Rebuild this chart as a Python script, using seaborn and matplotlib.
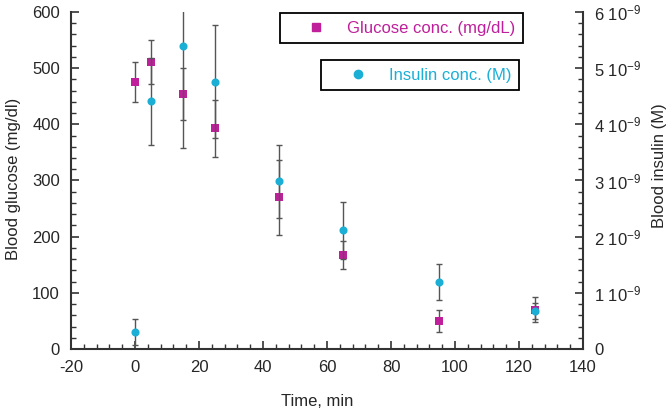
# Blood glucose and insulin over time
import numpy as np
import pandas as pd
import matplotlib
matplotlib.use('Agg')
import matplotlib.pyplot as plt
from matplotlib.ticker import MultipleLocator, FixedLocator, FixedFormatter
from matplotlib.lines import Line2D
import seaborn as sns

# Data
time_glucose = [0, 5, 15, 25, 45, 65, 95, 125]
glucose = [475, 511, 454, 393, 270, 168, 50, 70]
glucose_err = [36, 40, 47, 51, 67, 25, 20, 22]

time_insulin = [0, 5, 15, 25, 45, 65, 95, 125]
insulin = [0.30e-9, 4.41e-9, 5.40e-9, 4.76e-9, 2.99e-9, 2.11e-9, 1.20e-9, 0.68e-9]
insulin_err = [0.23e-9, 0.77e-9, 1.83e-9, 1.00e-9, 0.65e-9, 0.50e-9, 0.32e-9, 0.14e-9]

insulin_ticks = [0, 1e-9, 2e-9, 3e-9, 4e-9, 5e-9, 6e-9]
insulin_ticklabels = ['0', '1 10$^{-9}$', '2 10$^{-9}$', '3 10$^{-9}$',
                      '4 10$^{-9}$', '5 10$^{-9}$', '6 10$^{-9}$']

magenta = '#BF1F9B'
cyan = '#1BAFD6'
err_color = '#555555'

df_g = pd.DataFrame({'time': time_glucose, 'glucose': glucose})
df_i = pd.DataFrame({'time': time_insulin, 'insulin': insulin})

sns.set_style('ticks')
plt.rcParams['font.family'] = ['Liberation Sans', 'DejaVu Sans']
plt.rcParams['mathtext.default'] = 'regular'
plt.rcParams['axes.unicode_minus'] = False
fs = 12

fig = plt.figure(figsize=(6.66, 4.08), dpi=100)
ax = fig.add_axes([0.1066, 0.1446, 0.7688, 0.826])
ax2 = ax.twinx()

# glucose on the left axis
ax.errorbar(time_glucose, glucose, yerr=glucose_err, fmt='none', ecolor=err_color,
            elinewidth=1, capsize=2.2, capthick=1, zorder=2)
sns.scatterplot(data=df_g, x='time', y='glucose', marker='s', color=magenta, s=36,
                linewidth=0, ax=ax, zorder=3, legend=False)

# insulin on the right axis
ax2.errorbar(time_insulin, insulin, yerr=insulin_err, fmt='none', ecolor=err_color,
             elinewidth=1, capsize=2.2, capthick=1, zorder=2)
sns.scatterplot(data=df_i, x='time', y='insulin', marker='o', color=cyan, s=34,
                linewidth=0, ax=ax2, zorder=3, legend=False)

ax.set_xlim(-20, 140)
ax.set_ylim(0, 600)
ax2.set_ylim(0, 6e-9)

ax.xaxis.set_major_locator(MultipleLocator(20))
ax.xaxis.set_minor_locator(MultipleLocator(4))
ax.yaxis.set_major_locator(MultipleLocator(100))
ax.yaxis.set_minor_locator(MultipleLocator(20))
ax2.yaxis.set_major_locator(FixedLocator(insulin_ticks))
ax2.yaxis.set_major_formatter(FixedFormatter(insulin_ticklabels))
ax2.yaxis.set_minor_locator(MultipleLocator(0.2e-9))

for a in (ax, ax2):
    a.tick_params(which='major', direction='in', length=6, width=1.2, color='#333333',
                  labelsize=fs, pad=8)
    a.tick_params(which='minor', direction='in', length=3.5, width=1, color='#333333')
    for s in a.spines.values():
        s.set_linewidth(1.5)
        s.set_color('#333333')
    a.spines['top'].set_visible(False)
ax.spines['right'].set_visible(False)
ax2.spines['left'].set_visible(False)
ax2.spines['bottom'].set_visible(False)

ax.set_xlabel('Time, min', fontsize=fs, va='center')
ax.set_ylabel('Blood glucose (mg/dl)', fontsize=fs, va='center')
ax2.set_ylabel('Blood insulin (M)', fontsize=fs, rotation=90, va='center')
ax.xaxis.set_label_coords(0.48, -0.155)
ax.yaxis.set_label_coords(-0.113, 0.505)
ax2.yaxis.set_label_coords(1.15, 0.545)

# two separate legend boxes
h_g = [Line2D([], [], marker='s', color=magenta, linestyle='none', markersize=6)]
h_i = [Line2D([], [], marker='o', color=cyan, linestyle='none', markersize=6)]
leg_kw = dict(loc='upper right', frameon=True, fancybox=False, borderpad=0.46,
              handlelength=3.5, handletextpad=0.1, fontsize=fs, borderaxespad=0)
leg1 = ax.legend(h_g, ['Glucose conc. (mg/dL)'], bbox_to_anchor=(0.883, 0.997),
                 labelcolor=magenta, **leg_kw)
leg2 = ax2.legend(h_i, ['Insulin conc. (M)'], bbox_to_anchor=(0.875, 0.858),
                  labelcolor=cyan, **leg_kw)
for lg in (leg1, leg2):
    lg.get_frame().set_edgecolor('black')
    lg.get_frame().set_linewidth(1.3)
    lg.get_frame().set_alpha(1)

fig.savefig('out.png', dpi=100)
